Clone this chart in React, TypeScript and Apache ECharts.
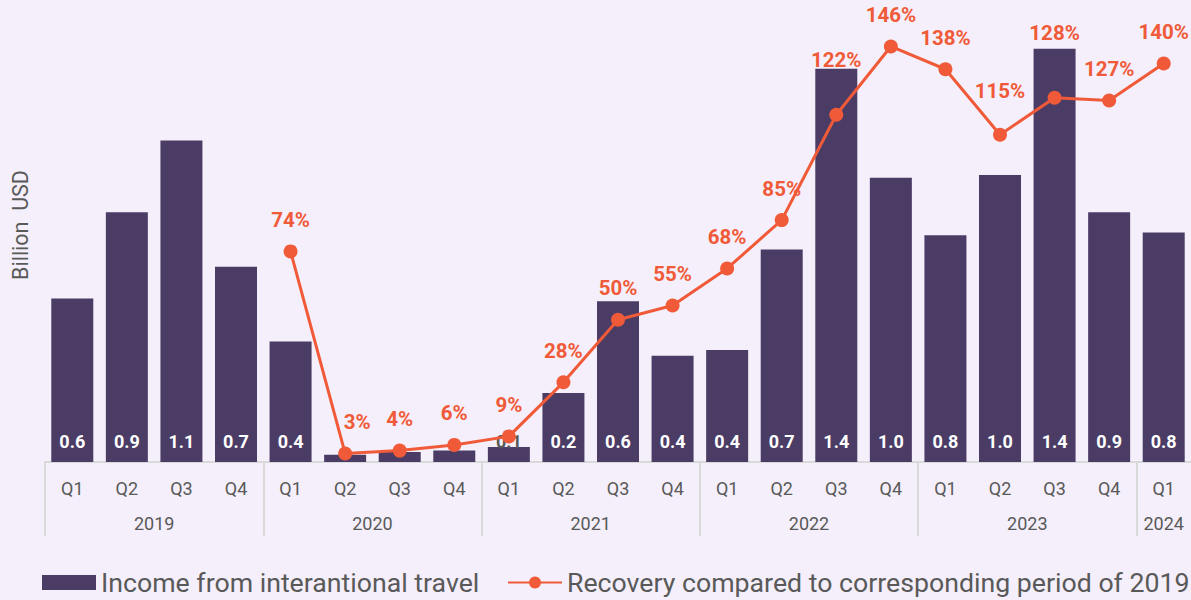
import React, { useEffect, useRef } from 'react';
import * as echarts from 'echarts';

const quarters = [
  'Q1', 'Q2', 'Q3', 'Q4',
  'Q1', 'Q2', 'Q3', 'Q4',
  'Q1', 'Q2', 'Q3', 'Q4',
  'Q1', 'Q2', 'Q3', 'Q4',
  'Q1', 'Q2', 'Q3', 'Q4',
  'Q1',
];
const years = [
  '2019', '2019', '2019', '2019',
  '2020', '2020', '2020', '2020',
  '2021', '2021', '2021', '2021',
  '2022', '2022', '2022', '2022',
  '2023', '2023', '2023', '2023',
  '2024',
];
// Billion USD
const income = [
  0.57, 0.87, 1.12, 0.68,
  0.42, 0.025, 0.035, 0.04,
  0.052, 0.24, 0.56, 0.37,
  0.39, 0.74, 1.37, 0.99,
  0.79, 1.0, 1.44, 0.87,
  0.8,
];
// % of the same period of 2019
const recovery = [
  null, null, null, null,
  74, 3, 4, 6,
  9, 28, 50, 55,
  68, 85, 122, 146,
  138, 115, 128, 127,
  140,
];
const incomeName = 'Income from interantional travel';
const recoveryName = 'Recovery compared to corresponding period of 2019';
const axisName = 'Billion  USD';

const BG = '#f4effa';
const BAR = '#4b3c66';
const LINE = '#f05a38';
const GRAY = '#595959';
const AXIS = '#d9d9d9';
const FONT = 'Roboto, "Noto Sans", sans-serif';

export default function App() {
  const ref = useRef<HTMLDivElement>(null);
  useEffect(() => {
    document.body.style.margin = '0';
    const chart = echarts.init(ref.current!, null, { renderer: 'svg' });

    const groups: { year: string; start: number; end: number }[] = [];
    years.forEach((y, i) => {
      const last = groups[groups.length - 1];
      if (last && last.year === y) last.end = i + 1;
      else groups.push({ year: y, start: i, end: i + 1 });
    });
    const sepValues = groups.map((g) => g.start);
    const centers = groups.map((g) => (g.start + g.end) / 2);

    const top = 22;
    const bottom = 138;
    const plotH = 600 - top - bottom;
    const barMax = plotH / 287;
    const lineMax = plotH / 2.846;

    // label placement tweaks (by category index)
    const labelDistance: Record<number, number> = { 14: 37, 17: 26, 18: 47 };
    const labelOffset: Record<number, [number, number]> = { 5: [12, 0] };

    const barData = income.map((v) => {
      if (v < 0.045) return { value: v, label: { show: false } };
      if (v < 0.1) return { value: v, label: { color: GRAY } };
      return v;
    });
    const lineData = recovery.map((v, i) => {
      if (v === null) return v;
      const label: any = {};
      if (labelDistance[i] !== undefined) label.distance = labelDistance[i];
      if (labelOffset[i] !== undefined) label.offset = labelOffset[i];
      return Object.keys(label).length ? { value: v, label } : v;
    });

    const legendBase = {
      top: 564,
      itemWidth: 54,
      itemHeight: 15,
      textStyle: { fontSize: 26.7, color: GRAY, fontFamily: FONT },
    };

    chart.setOption({
      animation: false,
      backgroundColor: BG,
      textStyle: { fontFamily: FONT },
      grid: {
        left: 45,
        right: 0,
        top,
        bottom,
        containLabel: false,
        outerBoundsMode: 'none',
      },
      legend: [
        { ...legendBase, left: 37, data: [{ name: incomeName, icon: 'rect' }] },
        { ...legendBase, left: 502, data: [{ name: recoveryName }] },
      ],
      graphic: [
        {
          type: 'text',
          x: 20,
          y: 225,
          rotation: Math.PI / 2,
          style: {
            text: axisName,
            fontSize: 21.5,
            fontFamily: FONT,
            fill: GRAY,
            align: 'center',
            verticalAlign: 'middle',
          },
        },
      ],
      xAxis: [
        {
          type: 'category',
          data: quarters,
          position: 'bottom',
          axisLine: { show: true, lineStyle: { color: AXIS, width: 2 } },
          axisTick: { show: false },
          axisLabel: { color: GRAY, fontSize: 18, margin: 17, interval: 0 },
        },
        {
          type: 'value',
          min: 0,
          max: quarters.length,
          position: 'bottom',
          axisLine: { show: false },
          splitLine: { show: false },
          axisTick: {
            show: true,
            customValues: sepValues,
            length: 74,
            lineStyle: { color: AXIS, width: 2 },
          },
          axisLabel: {
            customValues: centers,
            color: GRAY,
            fontSize: 18,
            margin: 52,
            formatter: (v: number) => {
              const i = centers.findIndex((c) => Math.abs(c - v) < 1e-6);
              return i >= 0 ? groups[i].year : '';
            },
          },
        },
      ],
      yAxis: [
        { type: 'value', show: false, min: 0, max: barMax, splitLine: { show: false } },
        { type: 'value', show: false, min: 0, max: lineMax, splitLine: { show: false } },
      ],
      series: [
        {
          name: incomeName,
          type: 'bar',
          xAxisIndex: 0,
          yAxisIndex: 0,
          data: barData,
          barWidth: 42,
          itemStyle: { color: BAR },
          z: 2,
          label: {
            show: true,
            position: 'insideBottom',
            distance: 12,
            color: '#ffffff',
            fontWeight: 'bold',
            fontSize: 18,
            fontFamily: FONT,
            formatter: (p: any) => Number(p.value).toFixed(1),
          },
        },
        {
          name: recoveryName,
          type: 'line',
          xAxisIndex: 0,
          yAxisIndex: 1,
          data: lineData,
          z: 3,
          symbol: 'circle',
          symbolSize: 14,
          lineStyle: { color: LINE, width: 3 },
          itemStyle: { color: LINE },
          label: {
            show: true,
            position: 'top',
            distance: 14,
            color: LINE,
            fontWeight: 'bold',
            fontSize: 20.5,
            fontFamily: FONT,
            formatter: (p: any) => `${p.value}%`,
          },
        },
      ],
    });
    return () => chart.dispose();
  }, []);
  return <div ref={ref} style={{ width: 1191, height: 600 }} />;
}
